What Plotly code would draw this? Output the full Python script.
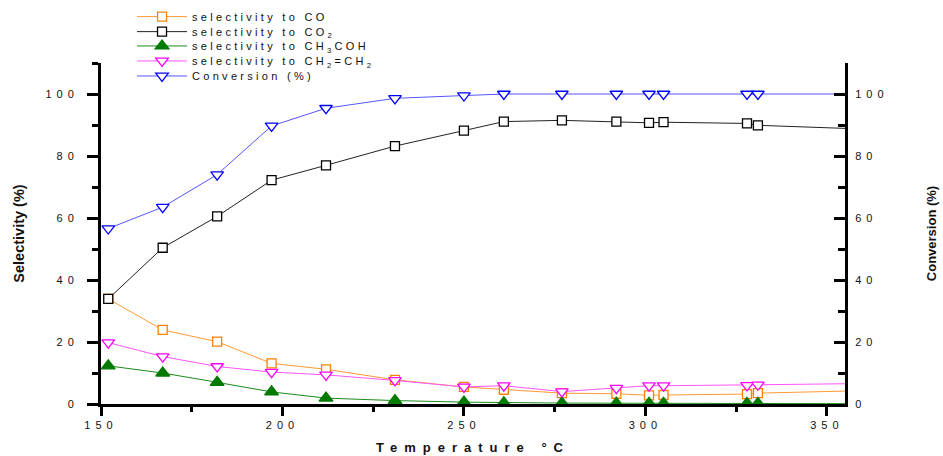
import plotly.graph_objects as go

temperature = [152, 167, 182, 197, 212, 231, 250, 261, 277, 292, 301, 305, 328, 331, 360]
sel_co = [33.9, 23.9, 20.1, 13.1, 11.2, 7.8, 5.5, 4.6, 3.5, 3.3, 2.8, 2.9, 3.2, 3.5, 4.3]
sel_co2 = [33.9, 50.4, 60.5, 72.2, 77.0, 83.2, 88.2, 91.1, 91.5, 91.1, 90.7, 90.9, 90.5, 89.9, 88.7]
sel_ch3coh = [12.3, 10.0, 7.0, 3.9, 1.9, 1.1, 0.6, 0.4, 0.3, 0.25, 0.2, 0.2, 0.2, 0.2, 0.1]
sel_c2h4 = [19.8, 15.3, 12.1, 10.3, 9.4, 7.6, 5.5, 5.9, 4.0, 5.1, 5.9, 5.9, 6.0, 6.2, 6.6]
conversion = [56.6, 63.5, 74.0, 89.7, 95.4, 98.6, 99.5, 100, 100, 100, 100, 100, 100, 100, 100]

names = ["selectivity to CO", "selectivity to CO<sub>2</sub>",
         "selectivity to CH<sub>3</sub>COH", "selectivity to CH<sub>2</sub>=CH<sub>2</sub>",
         "Conversion (%)"]

FONT = "Arial, Liberation Sans, sans-serif"
fig = go.Figure()

def add(y, name, color, symbol, fill, size, legend, yaxis="y", lc=None):
    fig.add_trace(go.Scatter(
        x=temperature, y=y, name=name, mode="lines+markers", yaxis=yaxis, legend=legend,
        line=dict(color=lc or color, width=1),
        marker=dict(symbol=symbol, size=size, color=fill, line=dict(color=color, width=1.3)),
    ))

add(sel_co, names[0], "#FF8000", "square", "white", 9, "legend", lc="#FF9933")
add(sel_co2, names[1], "#000000", "square", "white", 9, "legend2", lc="#222222")
add(sel_ch3coh, names[2], "#007A00", "triangle-up", "#007A00", 12, "legend3", lc="#1A8C1A")
add(sel_c2h4, names[3], "#FF00FF", "triangle-down", "white", 11, "legend4", lc="#FF55FF")
add(conversion, names[4], "#0000FF", "triangle-down", "white", 11, "legend5", yaxis="y2", lc="#5555FF")

axis_common = dict(showline=True, linewidth=3, linecolor="black", showgrid=False, zeroline=False,
                   tickfont=dict(family=FONT, size=11, color="#111"), tickwidth=2.5, tickcolor="black")

def leg(ypos):
    return dict(x=0.0417, y=ypos, xanchor="left", yanchor="middle", bgcolor="rgba(0,0,0,0)",
                font=dict(family=FONT, size=11, color="#111"), itemwidth=50)

fig.update_layout(
    width=943, height=456,
    margin=dict(l=101, r=98, t=63, b=52, autoexpand=False),
    paper_bgcolor="white", plot_bgcolor="white",
    font=dict(family=FONT, size=11, color="#111"),
    showlegend=True,
    legend=leg(1.136), legend2=leg(1.092), legend3=leg(1.050), legend4=leg(1.006), legend5=leg(0.962),
    xaxis=dict(range=[150, 355], tick0=150, dtick=50, ticks="outside", ticklen=9,
               minor=dict(dtick=25, ticks="outside", ticklen=5, tickwidth=2.5, tickcolor="black"),
               title=dict(text="<b>Temperature °C</b>", font=dict(family=FONT, size=13, color="#111"), standoff=13),
               **axis_common),
    yaxis=dict(range=[0, 110], tick0=0, dtick=20, ticks="outside", ticklen=11, ticklabelstandoff=6,
               minor=dict(dtick=10, ticks="outside", ticklen=6, tickwidth=2.5, tickcolor="black"),
               title=dict(text="<b>Selectivity (%)</b>", font=dict(family=FONT, size=14.5, color="#111"), standoff=33),
               **axis_common),
    yaxis2=dict(range=[0, 110], tick0=0, dtick=20, ticks="inside", ticklen=11, side="right",
                overlaying="y", anchor="x", ticklabelstandoff=5,
                minor=dict(dtick=10, ticks="inside", ticklen=7, tickwidth=2.5, tickcolor="black"),
                title=dict(text="<b>Conversion (%)</b>", font=dict(family=FONT, size=13, color="#111"), standoff=55),
                **axis_common),
)

css = (".xtick text,.ytick text,.y2tick text{letter-spacing:5px}"
       ".legendtext,.legend2text,.legend3text,.legend4text,.legend5text{letter-spacing:3.3px}"
       ".g-xtitle text{letter-spacing:7px}")
post = ("var s=document.createElement('style');s.textContent='" + css + "';document.head.appendChild(s);"
        "['legend','legend2','legend3','legend4','legend5'].forEach(function(c){"
        "document.querySelectorAll('g.'+c+' [clip-path]').forEach(function(e){e.removeAttribute('clip-path');});});")
fig.write_html("out.html", post_script=post)
